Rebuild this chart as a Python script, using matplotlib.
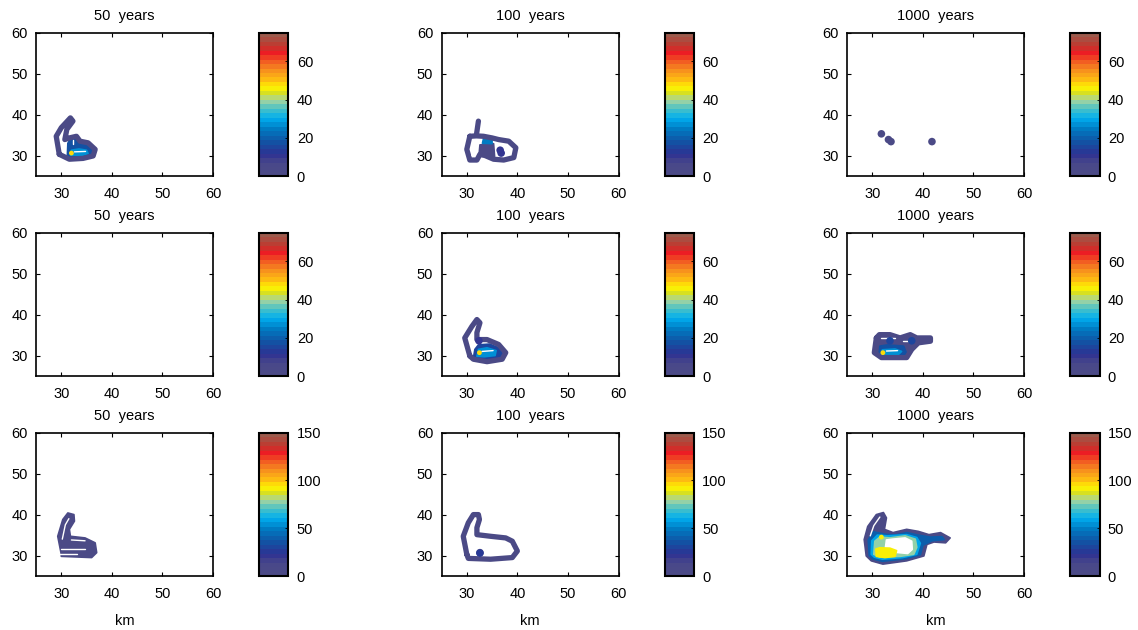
import matplotlib
matplotlib.use('Agg')
import matplotlib.pyplot as plt
from matplotlib.colors import LinearSegmentedColormap, Normalize
from matplotlib.cm import ScalarMappable

plt.rcParams['font.family'] = ['Liberation Sans', 'DejaVu Sans']
plt.rcParams['font.size'] = 10.5

# column titles and colour ranges per row
titles = ['50  years', '100  years', '1000  years']
row_vmax = [75, 75, 150]
row_ticks = [[0, 20, 40, 60], [0, 20, 40, 60], [0, 50, 100, 150]]
axis_ticks = [30, 40, 50, 60]

# ---- digitised shapes (km), value of each region ----
# row 1, 50 years
p11_rings = [(2, [(29.6, 30.3), (29.0, 34.7), (30.0, 36.8), (31.8, 39.2), (32.3, 38.4), (31.1, 36.4),
                  (30.7, 33.9), (31.6, 34.3), (33.0, 34.7), (33.7, 33.5), (35.3, 33.1), (36.7, 31.5),
                  (36.3, 29.9), (34.3, 29.3), (31.6, 29.1), (29.6, 30.3)])]
p11_fills = [(18, [(31.2, 30.0), (31.3, 33.0), (31.8, 34.0), (32.6, 34.2), (33.3, 33.3), (35.0, 32.8),
                   (36.2, 31.4), (35.8, 30.1), (34.0, 29.6), (31.8, 29.5)]),
             (28, [(31.8, 30.1), (32.0, 31.3), (33.5, 31.6), (35.0, 31.3), (35.3, 30.5), (34.0, 30.0)])]
p11_gaps = [[(32.6, 30.9), (34.8, 31.0)], [(32.3, 32.9), (32.3, 33.9)]]
p11_spots = [(32.0, 30.6, 48)]

# row 1, 100 years
p12_rings = [(2, [(30.6, 34.7), (30.0, 31.5), (30.6, 28.9), (32.0, 28.9), (32.6, 30.3), (33.6, 30.0),
                  (35.3, 29.1), (37.3, 28.9), (39.3, 29.5), (39.7, 31.9), (38.3, 33.5), (36.3, 33.9),
                  (35.0, 34.3), (33.3, 34.7), (31.9, 34.8), (30.6, 34.7)]),
             (2, [(31.9, 35.0), (32.3, 38.4)])]
p12_fills = [(2, [(32.4, 29.8), (32.6, 32.6), (35.3, 32.9), (35.5, 29.8)]),
             (24, [(33.1, 33.0), (33.3, 34.1), (35.0, 34.0), (35.0, 32.9)])]
p12_gaps = [[(31.0, 30.0), (31.4, 32.5)], [(37.5, 30.0), (38.5, 31.8)]]
p12_spots = [(36.6, 31.3, 10), (36.8, 30.6, 10)]

# row 1, 1000 years
p13_rings = []
p13_fills = []
p13_gaps = []
p13_spots = [(31.8, 35.3, 2), (33.2, 33.9, 2), (33.7, 33.4, 2), (41.8, 33.4, 2)]

# row 2, 50 years (empty)
p21_rings, p21_fills, p21_gaps, p21_spots = [], [], [], []

# row 2, 100 years
p22_rings = [(2, [(30.6, 29.9), (29.6, 34.3), (31.0, 37.1), (32.0, 38.8), (32.6, 38.0), (32.0, 35.6),
                  (32.0, 33.9), (34.0, 33.9), (36.3, 32.7), (37.7, 30.7), (37.0, 29.1), (34.0, 28.5),
                  (31.3, 29.1), (30.6, 29.9)])]
p22_fills = [(15, [(31.3, 29.3), (31.6, 31.5), (32.3, 32.6), (34.5, 32.8), (36.5, 31.8), (37.2, 30.2),
                   (36.0, 29.2), (33.5, 29.0)]),
             (28, [(32.0, 29.8), (32.3, 31.5), (34.0, 31.9), (35.8, 31.2), (35.6, 30.0), (33.5, 29.7)])]
p22_gaps = [[(33.0, 31.0), (35.2, 31.2)]]
p22_spots = [(32.4, 33.6, 10), (32.5, 30.7, 48)]

# row 2, 1000 years
p23_rings = [(2, [(30.8, 34.3), (30.4, 30.7), (31.8, 29.5), (36.8, 29.5), (37.8, 31.5), (39.1, 33.1),
                  (41.5, 33.5), (41.5, 34.3), (38.8, 34.3), (37.5, 35.1), (35.5, 34.3), (33.5, 35.1),
                  (31.4, 35.1), (30.8, 34.3)])]
p23_fills = [(2, [(30.8, 34.3), (30.4, 30.7), (31.8, 29.5), (36.8, 29.5), (37.8, 31.5), (39.1, 33.1),
                  (41.5, 33.5), (41.5, 34.3), (38.8, 34.3), (37.5, 35.1), (35.5, 34.3), (33.5, 35.1),
                  (31.4, 35.1)]),
             (18, [(31.3, 30.0), (31.5, 32.3), (33.0, 32.6), (36.2, 32.3), (36.8, 30.5), (35.8, 29.9)]),
             (28, [(31.8, 30.3), (32.0, 31.4), (34.5, 31.6), (35.8, 31.0), (35.2, 30.3)])]
p23_gaps = [[(31.8, 34.3), (34.5, 34.3)], [(32.8, 31.1), (35.0, 31.2)], [(36.0, 33.6), (37.2, 33.6)]]
p23_spots = [(32.1, 30.7, 48), (33.5, 33.6, 15), (37.8, 33.6, 15)]

# row 3, 50 years
p31_rings = []
p31_fills = [(3, [(30.0, 30.3), (29.3, 34.7), (30.3, 38.8), (31.3, 40.4), (32.5, 40.0), (32.6, 38.4),
                  (31.6, 36.4), (31.8, 34.7), (34.7, 34.3), (36.7, 33.1), (37.0, 30.7), (36.0, 29.5),
                  (30.0, 29.8)])]
p31_gaps = [[(30.2, 34.0), (30.8, 37.5), (31.5, 39.0)], [(30.0, 31.7), (34.7, 31.7)],
            [(29.8, 30.4), (33.2, 30.4)], [(32.0, 33.8), (34.7, 33.6)]]
p31_spots = []

# row 3, 100 years
p32_rings = [(3, [(30.0, 30.3), (29.3, 34.7), (30.3, 38.0), (31.3, 40.0), (32.3, 40.0), (32.5, 38.8),
                  (32.0, 36.8), (32.0, 35.1), (34.7, 34.7), (37.7, 34.3), (39.0, 33.5), (40.0, 31.1),
                  (39.0, 29.5), (34.7, 29.1), (30.3, 29.3), (30.0, 30.3)])]
p32_fills = []
p32_gaps = []
p32_spots = [(32.6, 30.7, 3), (32.6, 30.6, 25)]

# row 3, 1000 years
p33_rings = []
p33_fills = [(3, [(28.8, 29.9), (28.4, 33.9), (29.1, 37.1), (30.8, 40.0), (32.2, 40.5), (32.8, 39.2),
                  (32.4, 36.4), (34.1, 35.6), (36.8, 36.4), (39.1, 35.9), (41.2, 35.1), (43.5, 35.6),
                  (45.4, 34.3), (44.5, 33.1), (42.2, 33.3), (40.8, 32.7), (40.2, 29.9), (36.8, 28.7),
                  (32.1, 27.9), (29.8, 28.7)]),
             (38, [(29.4, 30.0), (29.2, 33.8), (30.2, 35.8), (32.6, 35.2), (34.5, 35.0), (36.8, 35.6),
                   (39.0, 35.0), (41.5, 34.5), (43.8, 34.6), (44.2, 33.9), (41.8, 33.6), (40.0, 32.5),
                   (39.5, 30.2), (36.5, 29.2), (32.0, 28.6), (30.0, 29.2)]),
             (60, [(29.8, 30.3), (29.9, 33.6), (31.0, 35.0), (33.0, 34.8), (36.8, 35.1), (38.8, 34.4),
                   (39.5, 33.0), (38.8, 30.3), (36.0, 29.5), (32.0, 29.1), (30.4, 29.6)]),
             (76, [(30.3, 30.3), (30.5, 33.5), (31.5, 34.5), (33.5, 34.3), (36.5, 34.8), (38.5, 34.0),
                   (38.8, 32.0), (38.2, 30.3), (35.5, 29.8), (31.5, 29.6)]),
             (None, [(32.5, 31.0), (32.8, 33.8), (34.0, 34.0), (36.5, 34.3), (37.8, 33.5), (37.9, 31.5),
                     (37.0, 30.5), (34.5, 30.8)]),
             (93, [(30.8, 29.8), (30.7, 31.6), (31.5, 31.9), (33.5, 31.8), (34.8, 31.2), (34.5, 29.8),
                   (32.5, 29.5)])]
p33_gaps = [[(29.6, 34.8), (30.3, 37.3), (31.5, 39.4)]]
p33_spots = [(31.8, 34.5, 93)]

panels = [
    [(p11_rings, p11_fills, p11_gaps, p11_spots), (p12_rings, p12_fills, p12_gaps, p12_spots),
     (p13_rings, p13_fills, p13_gaps, p13_spots)],
    [(p21_rings, p21_fills, p21_gaps, p21_spots), (p22_rings, p22_fills, p22_gaps, p22_spots),
     (p23_rings, p23_fills, p23_gaps, p23_spots)],
    [(p31_rings, p31_fills, p31_gaps, p31_spots), (p32_rings, p32_fills, p32_gaps, p32_spots),
     (p33_rings, p33_fills, p33_gaps, p33_spots)],
]

# colour map: muted ends, jet-like middle, banded
cmap = LinearSegmentedColormap.from_list('mjet', [
    (0.00, '#4b4a86'), (0.08, '#48478a'), (0.14, '#2e3192'), (0.24, '#0f56a6'),
    (0.32, '#0079c1'), (0.40, '#00aeef'), (0.47, '#4cc2c4'), (0.53, '#a8d5a0'),
    (0.58, '#d7e021'), (0.62, '#fff200'), (0.68, '#fdb813'), (0.74, '#f7941d'),
    (0.80, '#f26522'), (0.87, '#ed1c24'), (0.92, '#c1372d'), (1.00, '#9c5a4c')], N=32)

W, H = 1138, 630
fig = plt.figure(figsize=(W / 100, H / 100), dpi=100)

ax_left = [36, 441.5, 847]
cb_left = [259, 664.5, 1070]
row_top = [32.7, 232.7, 432.7]
ax_w, ax_h, cb_w = 177, 143.3, 29.5

for r in range(3):
    norm = Normalize(0, row_vmax[r])
    for c in range(3):
        rings, fills, gaps, spots = panels[r][c]
        ax = fig.add_axes([ax_left[c] / W, 1 - (row_top[r] + ax_h) / H, ax_w / W, ax_h / H])
        for val, pts in fills:
            xs = [p[0] for p in pts]
            ys = [p[1] for p in pts]
            col = 'white' if val is None else cmap(norm(val))
            ax.fill(xs, ys, color=col, lw=1.2, ec=col, joinstyle='round')
        for val, pts in rings:
            ax.plot([p[0] for p in pts], [p[1] for p in pts], color=cmap(norm(val)),
                    lw=3.8, solid_joinstyle='round', solid_capstyle='round')
        for pts in gaps:
            ax.plot([p[0] for p in pts], [p[1] for p in pts], color='white', lw=1.0,
                    solid_capstyle='round')
        for x, y, val in spots:
            # bright highlight spots are tiny, low-level blobs are wider
            size = 12 if norm(val) > 0.5 else 30
            ax.scatter([x], [y], s=size, color=cmap(norm(val)), edgecolors='none', zorder=3)
        ax.set_xlim(25, 60)
        ax.set_ylim(25, 60)
        ax.set_xticks(axis_ticks)
        ax.set_yticks(axis_ticks)
        ax.tick_params(direction='in', length=3, width=0.8, labelsize=10.5, top=True, right=True)
        ax.tick_params(axis='x', pad=8)
        ax.tick_params(axis='y', pad=6)
        for s in ax.spines.values():
            s.set_linewidth(1.2)
        ax.set_title(titles[c], fontsize=10.5, pad=9)
        if r == 2:
            ax.set_xlabel('km', fontsize=10.5, labelpad=9)

        cax = fig.add_axes([cb_left[c] / W, 1 - (row_top[r] + ax_h) / H, cb_w / W, ax_h / H])
        cb = fig.colorbar(ScalarMappable(norm=norm, cmap=cmap), cax=cax)
        cb.set_ticks(row_ticks[r])
        cb.outline.set_linewidth(1.5)
        cax.tick_params(direction='in', length=2, width=0.6, pad=6, labelsize=10.5)

fig.savefig('out.png', dpi=100)
